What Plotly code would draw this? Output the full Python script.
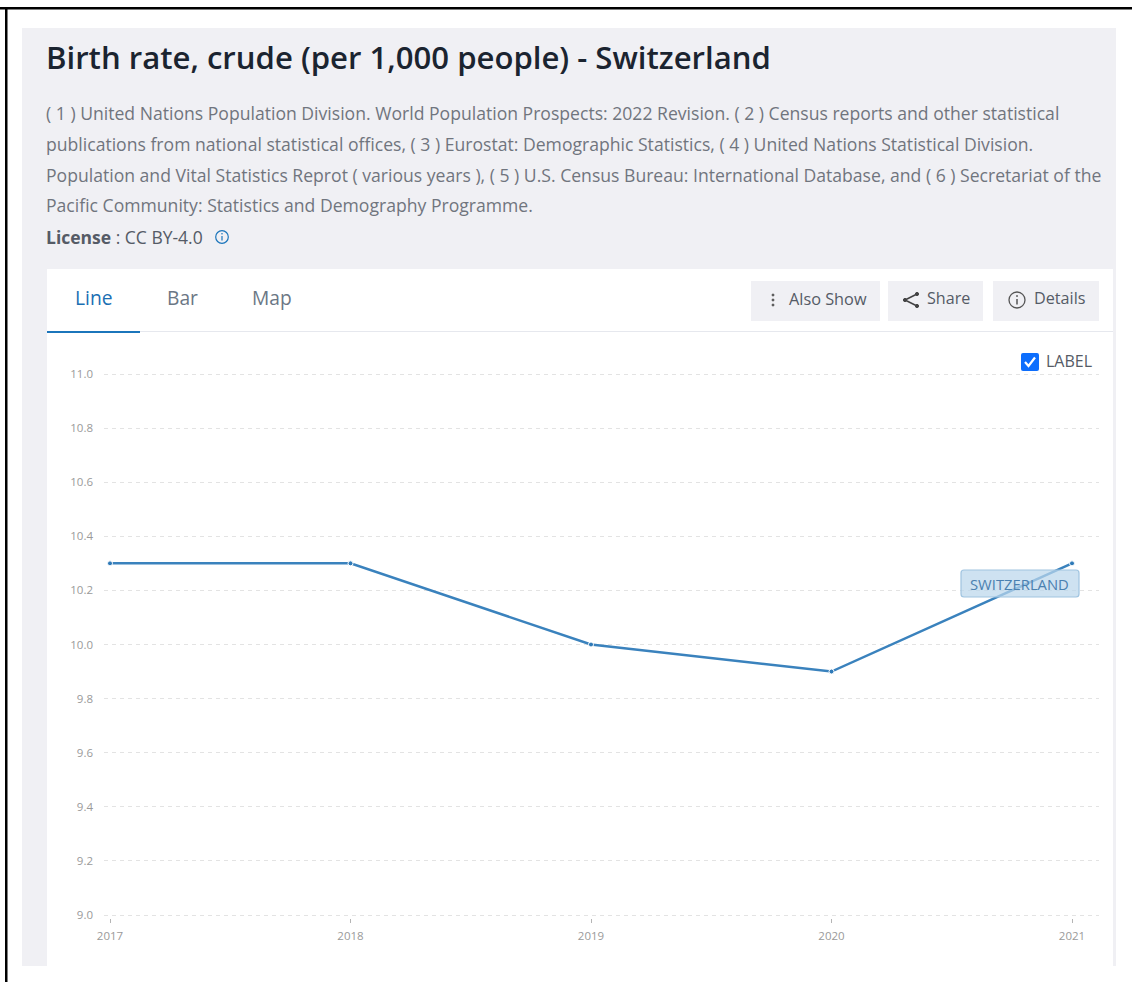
import plotly.graph_objects as go

W, H = 1132, 982
years = [2017, 2018, 2019, 2020, 2021]
birth_rate = [10.3, 10.3, 10.0, 9.9, 10.3]
y_ticks = [9.0, 9.2, 9.4, 9.6, 9.8, 10.0, 10.2, 10.4, 10.6, 10.8, 11.0]
series_label = "SWITZERLAND"
title = "Birth rate, crude (per 1,000 people) - Switzerland"
source_lines = [
    "( 1 ) United Nations Population Division. World Population Prospects: 2022 Revision. ( 2 ) Census reports and other statistical",
    "publications from national statistical offices, ( 3 ) Eurostat: Demographic Statistics, ( 4 ) United Nations Statistical Division.",
    "Population and Vital Statistics Reprot ( various years ), ( 5 ) U.S. Census Bureau: International Database, and ( 6 ) Secretariat of the",
    "Pacific Community: Statistics and Demography Programme.",
]

FONT = "Open Sans"
px = lambda v: v / W
py = lambda v: 1 - v / H


def rect(x0, y0, x1, y1, fill, line=None, layer="below"):
    return dict(type="rect", xref="paper", yref="paper", x0=px(x0), x1=px(x1), y0=py(y0), y1=py(y1),
                fillcolor=fill, line=dict(color=line or fill, width=1 if line else 0), layer=layer)


def pline(points, color, width=1.5, layer="above"):
    path = "M " + " L ".join(f"{px(a):.5f},{py(b):.5f}" for a, b in points)
    return dict(type="path", xref="paper", yref="paper", path=path, line=dict(color=color, width=width), layer=layer)


def circle(cx, cy, r, color, fill="rgba(0,0,0,0)", width=1.3):
    return dict(type="circle", xref="paper", yref="paper", x0=px(cx - r), x1=px(cx + r), y0=py(cy + r), y1=py(cy - r),
                line=dict(color=color, width=width), fillcolor=fill, layer="above")


def text(x, y, s, size, color, weight=400, anchor="left", **kw):
    return dict(xref="paper", yref="paper", x=px(x), y=py(y), text=s, showarrow=False, xanchor=anchor, yanchor="middle",
                xshift=-2, font=dict(family=FONT, size=size, color=color, weight=weight), **kw)


def round_rect(x0, y0, x1, y1, r):
    pts = [("M", x0 + r, y0), ("L", x1 - r, y0), ("Q", x1, y0, x1, y0 + r), ("L", x1, y1 - r), ("Q", x1, y1, x1 - r, y1),
           ("L", x0 + r, y1), ("Q", x0, y1, x0, y1 - r), ("L", x0, y0 + r), ("Q", x0, y0, x0 + r, y0)]
    out = []
    for p in pts:
        coords = [f"{px(p[i]):.5f},{py(p[i + 1]):.5f}" for i in range(1, len(p), 2)]
        out.append(p[0] + " " + " ".join(coords))
    return " ".join(out) + " Z"


PANEL = "#f0f0f4"
shapes = [
    rect(0, 7, W, 9.5, "#000000"),
    rect(5, 7, 7.5, H, "#000000"),
    rect(22, 28, 1116, 966, PANEL),
    rect(47, 269, 1113, 966, "#ffffff"),
    rect(47, 331, 1113, 332, "#e6e8ee"),
    rect(47, 331, 140, 333, "#1b75bb"),
    rect(751, 281, 880, 321, PANEL),
    rect(888, 281, 983, 321, PANEL),
    rect(993, 281, 1099, 321, PANEL),
    circle(773, 295, 1, "#555", "#555", 1), circle(773, 300, 1, "#555", "#555", 1), circle(773, 305, 1, "#555", "#555", 1),
    pline([(917, 294), (905, 300), (917, 306)], "#444", 1.6),
    circle(917, 294, 1.6, "#444", "#444", 1), circle(905, 300, 1.6, "#444", "#444", 1), circle(917, 306, 1.6, "#444", "#444", 1),
    circle(1017, 300, 8, "#555"),
    pline([(1017, 299), (1017, 304.5)], "#555", 1.5),
    circle(1017, 296, 0.5, "#555", "#555", 1),
    circle(222, 237, 6.3, "#1b75bb", width=1.2),
    pline([(222, 236), (222, 240.5)], "#1b75bb", 1.2),
    circle(222, 233.8, 0.4, "#1b75bb", "#1b75bb", 0.8),
    dict(type="path", xref="paper", yref="paper", layer="above", fillcolor="#0d6efd", line=dict(width=0),
         path=round_rect(1021, 353, 1039, 371, 2)),
    pline([(1025, 362), (1028.5, 366), (1035, 357.5)], "#ffffff", 2.2),
    dict(type="path", xref="paper", yref="paper", layer="above", fillcolor="rgba(187,215,236,0.72)",
         line=dict(color="#a0c4e0", width=1.2), path=round_rect(961, 570, 1079, 597, 3)),
]

annotations = [
    text(46, 57.5, title, 31.1, "#1b2430", 600),
    text(46, 237, "<b>License</b> : CC BY-4.0", 17.5, "#555b66"),
    text(75, 297, "Line", 19.3, "#1b6fb3", 500),
    text(167, 297, "Bar", 19.2, "#6b7785"),
    text(252, 297, "Map", 19.2, "#6b7785"),
    text(789, 299, "Also Show", 16.3, "#555b66"),
    text(927, 298, "Share", 16.1, "#555b66"),
    text(1034, 298, "Details", 16.2, "#555b66"),
    text(1046, 361, "LABEL", 16, "#555b66"),
    text(1021, 583.5, series_label, 14.8, "#4a80b0", anchor="center"),
]
for y, line in zip([113, 144, 174.5, 205], source_lines):
    annotations.append(text(46, y, line, 17.6, "#70757e"))

fig = go.Figure(go.Scatter(
    x=years, y=birth_rate, mode="lines+markers",
    line=dict(color="#3a82bd", width=2.5),
    marker=dict(color="#2f7ab8", size=5, line=dict(color="#ffffff", width=1)),
    cliponaxis=False, hoverinfo="x+y",
))

year_px = (1072 - 110) / 4
unit_px = (915 - 374) / 2
fig.update_layout(
    width=W, height=H, autosize=False,
    margin=dict(l=0, r=0, t=0, b=0, autoexpand=False),
    paper_bgcolor="#ffffff", plot_bgcolor="rgba(0,0,0,0)",
    showlegend=False, shapes=shapes, annotations=annotations,
    font=dict(family=FONT),
    xaxis=dict(
        domain=[px(104), px(1099)],
        range=[years[0] - 6 / year_px, years[-1] + 27 / year_px],
        tickvals=years, ticktext=[str(v) for v in years],
        showgrid=False, zeroline=False, showline=False, automargin=False,
        ticks="outside", ticklen=4, tickwidth=1, tickcolor="#b5b5b5",
        anchor="free", position=py(917.5), ticklabelstandoff=4,
        tickfont=dict(family=FONT, size=11.5, color="#9a9a9a"),
    ),
    yaxis=dict(
        domain=[py(917), py(372)],
        range=[9 - 2 / unit_px, 11 + 2 / unit_px],
        tickvals=y_ticks, tickformat=".1f", automargin=False,
        showgrid=True, gridcolor="#e3e3e3", griddash="4px,4px", gridwidth=1,
        zeroline=False, showline=False, ticks="",
        ticklabelstandoff=10,
        tickfont=dict(family=FONT, size=11.5, color="#9a9a9a"),
    ),
)

fig.write_html("out.html", post_script="document.body.style.margin='0';", config=dict(displayModeBar=False))
